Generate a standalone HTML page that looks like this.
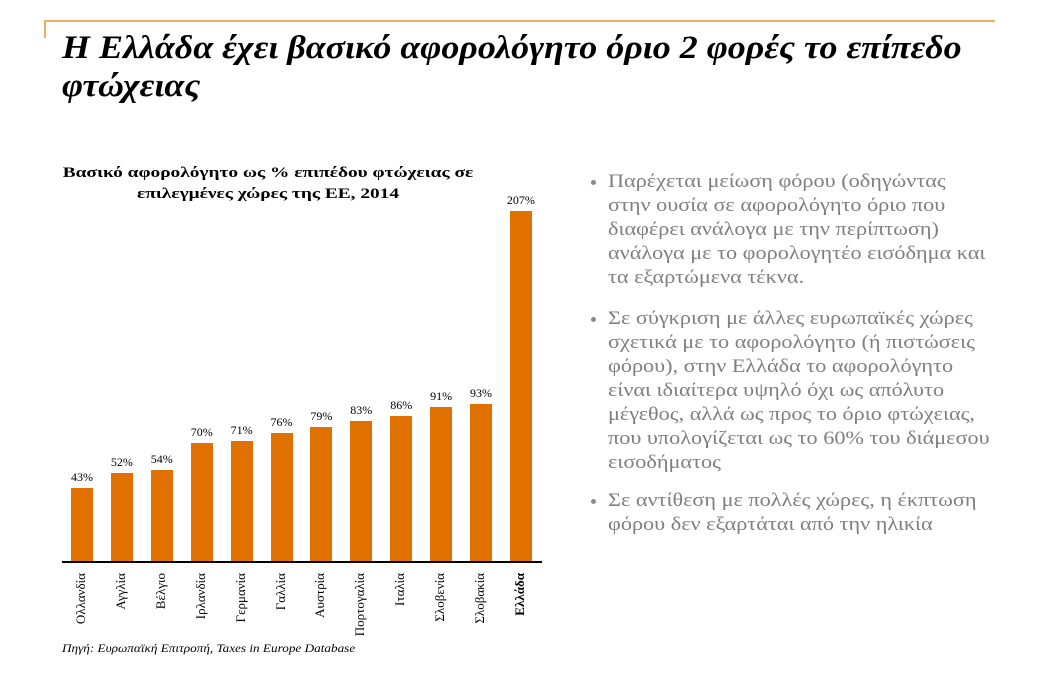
<!DOCTYPE html>
<html><head><meta charset="utf-8"><style>
body{margin:0;width:1049px;height:687px;background:#fff;position:relative;overflow:hidden;font-family:"Liberation Serif",serif}
.a{position:absolute;white-space:nowrap}
.t{font-weight:bold;font-style:italic;font-size:33px;color:#000;left:62px;line-height:38px;top:29px;transform:scaleX(1.09);transform-origin:0 0}
.b{color:#7f7f7f;font-size:19px;line-height:24px;left:608px;transform:scaleX(1.17);transform-origin:0 0}
.d{left:591px;width:5px;height:5px;border-radius:50%;background:#8a8a8a}
.bar{position:absolute;background:#e07000;width:22px}
.v{position:absolute;font-size:12px;width:40px;text-align:center}
.x{position:absolute;font-size:13px;transform:rotate(-90deg);transform-origin:0 0;text-align:right;width:80px}
</style></head><body>
<div class="a" style="left:44px;top:20px;width:951px;height:2px;background:#e8b060"></div>
<div class="a" style="left:44px;top:20px;width:2px;height:18px;background:#e8b060"></div>
<div class="a t">Η Ελλάδα έχει βασικό αφορολόγητο όριο 2 φορές το επίπεδο<br>φτώχειας</div>
<div class="a" style="left:268px;top:163px;width:340px;margin-left:-170px;text-align:center;font-weight:bold;font-size:15px;line-height:21px;transform:scaleX(1.29)">Βασικό αφορολόγητο ως % επιπέδου φτώχειας σε<br>επιλεγμένες χώρες της ΕΕ, 2014</div>
<div class="a" style="left:62px;top:561px;width:480px;height:1.5px;background:#000"></div>
<div id="c"></div>
<div class="a" style="left:62px;top:641px;font-style:italic;font-size:12px;transform:scaleX(1.1);transform-origin:0 0">Πηγή: Ευρωπαϊκή Επιτροπή, Taxes in Europe Database</div>
<div class="a d" style="top:180px"></div>
<div class="a b" style="top:170px">Παρέχεται μείωση φόρου (οδηγώντας<br>στην ουσία σε αφορολόγητο όριο που<br>διαφέρει ανάλογα με την περίπτωση)<br>ανάλογα με το φορολογητέο εισόδημα και<br>τα εξαρτώμενα τέκνα.</div>
<div class="a d" style="top:317px"></div>
<div class="a b" style="top:307px">Σε σύγκριση με άλλες ευρωπαϊκές χώρες<br>σχετικά με το αφορολόγητο (ή πιστώσεις<br>φόρου), στην Ελλάδα το αφορολόγητο<br>είναι ιδιαίτερα υψηλό όχι ως απόλυτο<br>μέγεθος, αλλά ως προς το όριο φτώχειας,<br>που υπολογίζεται ως το 60% του διάμεσου<br>εισοδήματος</div>
<div class="a d" style="top:499px"></div>
<div class="a b" style="top:489px">Σε αντίθεση με πολλές χώρες, η έκπτωση<br>φόρου δεν εξαρτάται από την ηλικία</div>
<script>
var d=[["Ολλανδία",43],["Αγγλία",52],["Βέλγιο",54],["Ιρλανδία",70],["Γερμανία",71],["Γαλλία",76],["Αυστρία",79],["Πορτογαλία",83],["Ιταλία",86],["Σλοβενία",91],["Σλοβακία",93],["Ελλάδα",207]];
var h="";d.forEach(function(e,i){var cx=82+i*39.9,ht=e[1]*1.69,top=561-ht;
h+='<div class="bar" style="left:'+(cx-11)+'px;top:'+top+'px;height:'+ht+'px"></div>';
h+='<div class="v" style="left:'+(cx-20)+'px;top:'+(top-18)+'px">'+e[1]+'%</div>';
h+='<div class="x" style="left:'+(cx-9)+'px;top:653px;'+(i==11?'font-weight:bold':'')+'">'+e[0]+'</div>';});
document.getElementById("c").innerHTML=h;
</script>
</body></html>
